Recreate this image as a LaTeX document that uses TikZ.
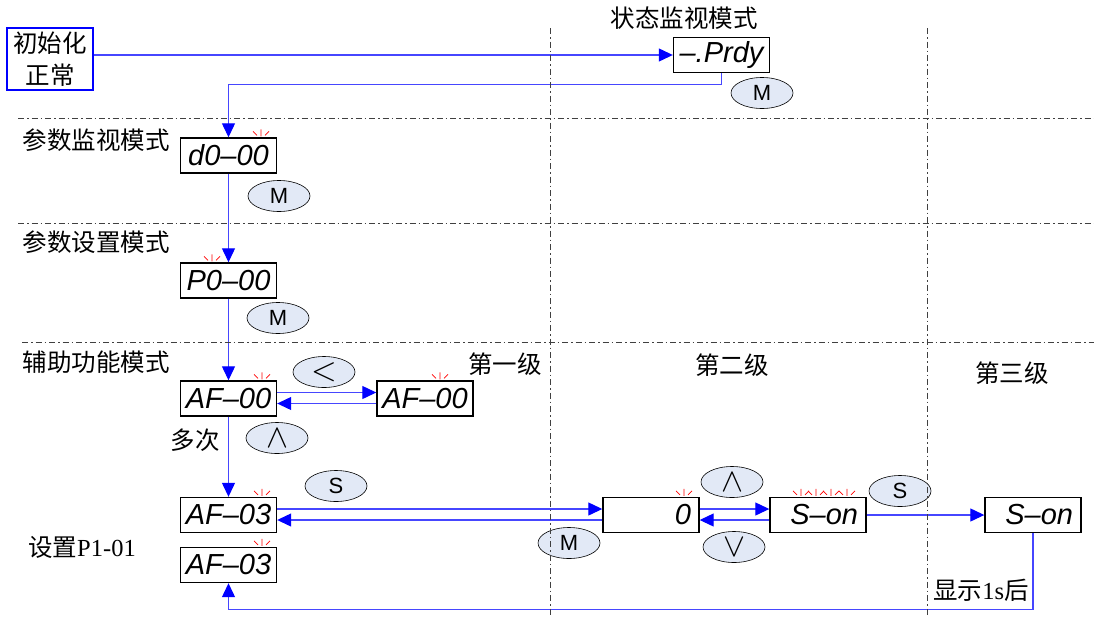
\documentclass[tikz,border=0pt]{standalone}
\usepackage{fontspec}
\setmainfont{Liberation Serif}
\newfontfamily\cjk{Noto Sans CJK SC}
\newfontfamily\segfont{Liberation Sans}
\usetikzlibrary{shapes.geometric,arrows.meta,calc}
\definecolor{lcol}{RGB}{70,70,255}
\definecolor{keyfill}{RGB}{226,233,246}
\tikzset{
  disp/.style={draw,line width=1.4pt,minimum width=96pt,minimum height=35pt,inner sep=0pt,
    font=\segfont\itshape\fontsize{29}{29}\selectfont},
  dispr/.style={disp,text width=80pt,align=right},
  key/.style={ellipse,draw,line width=0.6pt,fill=keyfill,minimum width=62pt,minimum height=31pt,
    inner sep=0pt,font=\segfont\fontsize{22}{22}\selectfont},
  lbl/.style={font=\cjk\fontsize{24.5}{28}\selectfont,inner sep=0pt},
  conn/.style={draw=lcol,line width=1.2pt,-{Triangle[length=14pt,width=13pt,color=blue]}},
  sepline/.style={draw=black!75,line width=0.8pt,dash pattern=on 6pt off 3pt on 1.5pt off 3pt},
  pics/sparkle/.style={code={\draw[red,line width=0.7pt] (0,-1)--(0,-8) (-4,-2)--(-8,-6) (4,-2)--(8,-6);}}
}
\newcommand\bigsym[1]{\scalebox{3.3}{\normalsize$#1$}}
\begin{document}
\begin{tikzpicture}[x=1pt,y=-1pt]
\useasboundingbox (0,0) rectangle (1094,616);

% boxes
\node[draw=blue,line width=2pt,minimum width=86pt,minimum height=62pt,inner sep=0pt,align=center,
  font=\cjk\fontsize{24.5}{32}\selectfont] (init) at (50,59) {初始化\\正常};
\node[disp] (prdy) at (721.5,55) {–.Prdy};
\node[disp] (d0) at (228.5,155.5) {d0–00};
\node[disp] (p0) at (228.5,280.5) {P0–00};
\node[disp] (af0) at (228.5,398.5) {AF–00};
\node[disp] (af0b) at (425,398.5) {AF–00};
\node[disp] (af3) at (228.5,515) {AF–03};
\node[disp] (af3b) at (228.5,565) {AF–03};
\node[dispr] (zero) at (651,515) {0};
\node[dispr] (son) at (818,515) {S–on};
\node[dispr] (son3) at (1033,515) {S–on};

% sparkles
\pic at ($(d0.north)+(32.5,0)$) {sparkle};
\pic at ($(p0.north)+(-16.5,0)$) {sparkle};
\pic at ($(af0.north)+(33.5,0)$) {sparkle};
\pic at ($(af0b.north)+(15,0)$) {sparkle};
\pic at ($(af3.north)+(33.5,0)$) {sparkle};
\pic at ($(af3b.north)+(33.5,0)$) {sparkle};
\pic at ($(zero.north)+(33,0)$) {sparkle};
\pic at ($(son.north)+(-17,0)$) {sparkle};
\pic at ($(son.north)+(-2,0)$) {sparkle};
\pic at ($(son.north)+(13,0)$) {sparkle};
\pic at ($(son.north)+(29,0)$) {sparkle};

% labels
\node[lbl] (tstat) at (684,18) {状态监视模式};
\node[lbl] (tpm) at (96,140) {参数监视模式};
\node[lbl] (tps) at (96,242) {参数设置模式};
\node[lbl] (taux) at (96,362) {辅助功能模式};
\node[lbl] (tl1) at (505,364) {第一级};
\node[lbl] (tl2) at (732,365) {第二级};
\node[lbl] (tl3) at (1012,373) {第三级};
\node[lbl] (tmany) at (195,440) {多次};
\node[lbl] (tset) at (82,547) {设置{\rmfamily P1-01}};
\node[lbl] (tshow) at (981,590) {显示{\rmfamily 1s}后};

% keys
\node[key] (k1) at (762,93) {M};
\node[key] (k2) at (279,196) {M};
\node[key] (k3) at (278,318) {M};
\node[key] (k4) at (324,372) {\bigsym{<}};
\node[key] (k5) at (277,438) {\bigsym{\wedge}};
\node[key] (k6) at (336,486) {S};
\node[key] (k7) at (569,543) {M};
\node[key] (k8) at (732,482) {\bigsym{\wedge}};
\node[key] (k9) at (734,547) {\bigsym{\vee}};
\node[key] (k10) at (900,491) {S};

% connectors
\draw[conn] (init.east |- prdy.west) -- (prdy.west);
\draw[conn] (prdy.south) -- ++(0,11) -| (d0.north);
\draw[conn] (d0.south) -- (p0.north);
\draw[conn] (p0.south) -- (af0.north);
\draw[conn] ($(af0.east)+(0,-6)$) -- ($(af0b.west)+(0,-6)$);
\draw[conn] ($(af0b.west)+(0,5)$) -- ($(af0.east)+(0,5)$);
\draw[conn] (af0.south) -- (af3.north);
\draw[conn] ($(af3.east)+(0,-6)$) -- ($(zero.west)+(0,-6)$);
\draw[conn] ($(zero.west)+(0,5)$) -- ($(af3.east)+(0,5)$);
\draw[conn] ($(zero.east)+(0,-6)$) -- ($(son.west)+(0,-6)$);
\draw[conn] ($(son.west)+(0,5)$) -- ($(zero.east)+(0,5)$);
\draw[conn] (son.east) -- (son3.west);
\draw[conn] (son3.south) |- ($(af3b.south)+(0,26)$) -- (af3b.south);

% separators
\draw[sepline] (18,118) -- (1094,118);
\draw[sepline] (18,223) -- (1094,223);
\draw[sepline] (22,342) -- (1094,342);
\draw[sepline] (550,28) -- (550,616);
\draw[sepline] (927,28) -- (927,616);
\end{tikzpicture}
\end{document}
